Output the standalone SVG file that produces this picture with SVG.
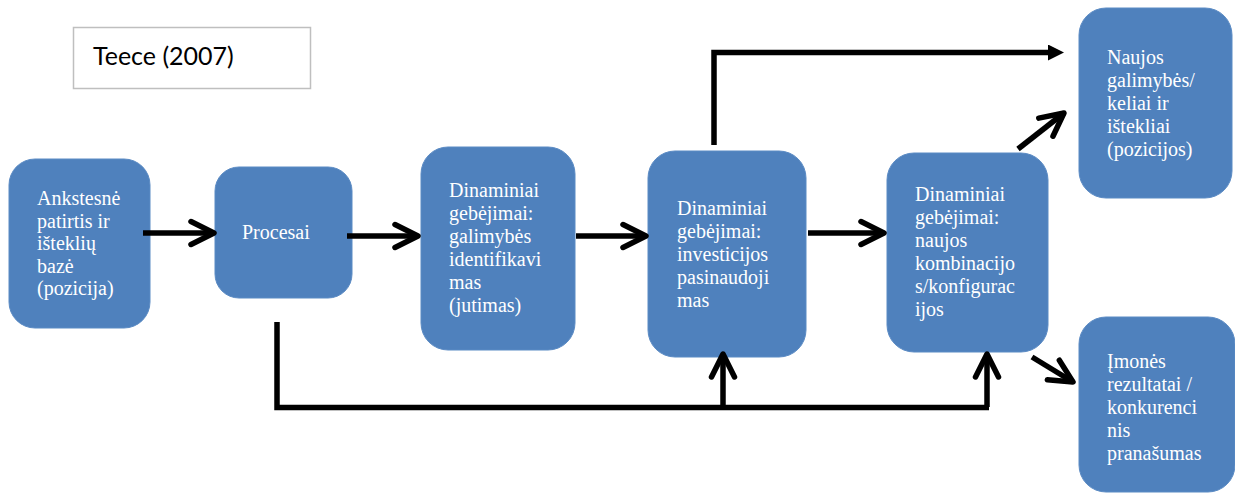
<svg xmlns="http://www.w3.org/2000/svg" width="1235" height="493" viewBox="0 0 1235 493">
  <style>
    .node { fill: #4F81BD; stroke: #5b8bc4; stroke-width: 1; }
    .lbl { font-family: "Liberation Serif", "Times New Roman", serif; font-size: 20px; fill: #ffffff; }
    .wire { fill: none; stroke: #000000; stroke-width: 5.5; stroke-linecap: butt; stroke-linejoin: miter; }
    .title { font-family: Lato, "Open Sans", sans-serif; font-size: 25px; fill: #000000; }
  </style>
  <defs>
    <marker id="chev" viewBox="0 0 30 30" refX="26" refY="15" markerWidth="30" markerHeight="30" markerUnits="userSpaceOnUse" orient="auto">
      <path d="M3,3.5 L26,15 L3,26.5" fill="none" stroke="#000" stroke-width="5.5" stroke-linecap="round" stroke-linejoin="round"/>
    </marker>
    <marker id="tri" viewBox="0 0 16 16" refX="16" refY="8" markerWidth="16" markerHeight="16" markerUnits="userSpaceOnUse" orient="auto">
      <path d="M0,0 L16,8 L0,16 z" fill="#000"/>
    </marker>
  </defs>

  <!-- title box -->
  <g id="title">
    <rect x="73.5" y="27.5" width="237" height="61" fill="#ffffff" stroke="#bfbfbf" stroke-width="1.5"/>
    <text class="title" x="93" y="65">Teece (2007)</text>
  </g>

  <!-- nodes -->
  <g id="n-ankstesne">
    <rect class="node" x="9" y="159" width="141" height="169" rx="26"/>
    <text class="lbl"><tspan x="37" y="205">Ankstesnė</tspan><tspan x="37" y="227.5">patirtis ir</tspan><tspan x="37" y="250">išteklių</tspan><tspan x="37" y="272.5">bazė</tspan><tspan x="37" y="295">(pozicija)</tspan></text>
  </g>
  <g id="n-procesai">
    <rect class="node" x="215" y="167" width="137" height="131" rx="24"/>
    <text class="lbl" x="242" y="239">Procesai</text>
  </g>
  <g id="n-jutimas">
    <rect class="node" x="421" y="147" width="154" height="203" rx="27"/>
    <text class="lbl"><tspan x="449" y="197">Dinaminiai</tspan><tspan x="449" y="220">gebėjimai:</tspan><tspan x="449" y="243">galimybės</tspan><tspan x="449" y="266">identifikavi</tspan><tspan x="449" y="289">mas</tspan><tspan x="449" y="312">(jutimas)</tspan></text>
  </g>
  <g id="n-investicijos">
    <rect class="node" x="648" y="151" width="158" height="206" rx="27"/>
    <text class="lbl"><tspan x="677" y="215">Dinaminiai</tspan><tspan x="677" y="238">gebėjimai:</tspan><tspan x="677" y="261">investicijos</tspan><tspan x="677" y="284">pasinaudoji</tspan><tspan x="677" y="307">mas</tspan></text>
  </g>
  <g id="n-kombinacijos">
    <rect class="node" x="887" y="153" width="161" height="199" rx="27"/>
    <text class="lbl"><tspan x="915" y="201">Dinaminiai</tspan><tspan x="915" y="224">gebėjimai:</tspan><tspan x="915" y="247">naujos</tspan><tspan x="915" y="270">kombinacijo</tspan><tspan x="915" y="293">s/konfigurac</tspan><tspan x="915" y="316">ijos</tspan></text>
  </g>
  <g id="n-naujos">
    <rect class="node" x="1079" y="8" width="153" height="190" rx="27"/>
    <text class="lbl"><tspan x="1107" y="64">Naujos</tspan><tspan x="1107" y="87">galimybės/</tspan><tspan x="1107" y="110">keliai ir</tspan><tspan x="1107" y="133">ištekliai</tspan><tspan x="1107" y="156">(pozicijos)</tspan></text>
  </g>
  <g id="n-imones">
    <rect class="node" x="1079" y="317" width="156" height="175" rx="27"/>
    <text class="lbl"><tspan x="1107" y="368">Įmonės</tspan><tspan x="1107" y="391">rezultatai /</tspan><tspan x="1107" y="414">konkurenci</tspan><tspan x="1107" y="437">nis</tspan><tspan x="1107" y="460">pranašumas</tspan></text>
  </g>

  <!-- connectors (drawn over the node edges) -->
  <g id="connectors">
    <line class="wire" x1="143" y1="233" x2="214" y2="233" marker-end="url(#chev)"/>
    <line class="wire" x1="347" y1="236" x2="418" y2="236" marker-end="url(#chev)"/>
    <line class="wire" x1="576" y1="236" x2="646" y2="236" marker-end="url(#chev)"/>
    <line class="wire" x1="808" y1="233" x2="884" y2="233" marker-end="url(#chev)"/>
    <polyline class="wire" points="714,145 714,52.5 1048,52.5"/>
    <line x1="1040" y1="52.5" x2="1064" y2="52.5" stroke="none" marker-end="url(#tri)"/>
    <line class="wire" x1="1018" y1="149" x2="1064" y2="113" marker-end="url(#chev)"/>
    <line class="wire" x1="1032" y1="357" x2="1073" y2="382" marker-end="url(#chev)"/>
    <polyline class="wire" points="277,322 277,407.5 989,407.5"/>
    <line class="wire" x1="723" y1="407" x2="723" y2="354" marker-end="url(#chev)"/>
    <line class="wire" x1="987" y1="407" x2="987" y2="354" marker-end="url(#chev)"/>
  </g>
</svg>
